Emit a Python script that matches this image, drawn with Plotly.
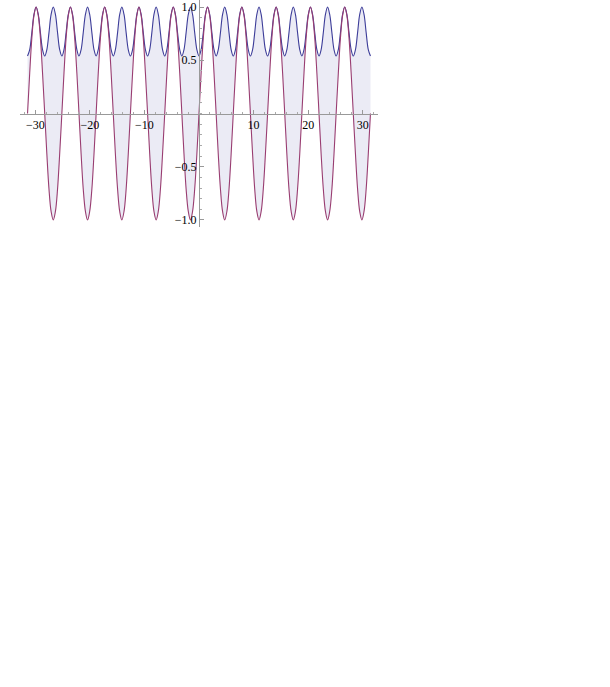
import plotly.graph_objects as go

# sample points, every eighth of pi
x_vals = [
    -31.42, -31.02, -30.63, -30.24, -29.85, -29.45, -29.06, -28.67,
    -28.27, -27.88, -27.49, -27.10, -26.70, -26.31, -25.92, -25.53,
    -25.13, -24.74, -24.35, -23.95, -23.56, -23.17, -22.78, -22.38,
    -21.99, -21.60, -21.21, -20.81, -20.42, -20.03, -19.63, -19.24,
    -18.85, -18.46, -18.06, -17.67, -17.28, -16.89, -16.49, -16.10,
    -15.71, -15.32, -14.92, -14.53, -14.14, -13.74, -13.35, -12.96,
    -12.57, -12.17, -11.78, -11.39, -11.00, -10.60, -10.21, -9.82,
    -9.42, -9.03, -8.64, -8.25, -7.85, -7.46, -7.07, -6.68,
    -6.28, -5.89, -5.50, -5.11, -4.71, -4.32, -3.93, -3.53,
    -3.14, -2.75, -2.36, -1.96, -1.57, -1.18, -0.79, -0.39,
    0.00,
    0.39, 0.79, 1.18, 1.57, 1.96, 2.36, 2.75, 3.14,
    3.53, 3.93, 4.32, 4.71, 5.11, 5.50, 5.89, 6.28,
    6.68, 7.07, 7.46, 7.85, 8.25, 8.64, 9.03, 9.42,
    9.82, 10.21, 10.60, 11.00, 11.39, 11.78, 12.17, 12.57,
    12.96, 13.35, 13.74, 14.14, 14.53, 14.92, 15.32, 15.71,
    16.10, 16.49, 16.89, 17.28, 17.67, 18.06, 18.46, 18.85,
    19.24, 19.63, 20.03, 20.42, 20.81, 21.21, 21.60, 21.99,
    22.38, 22.78, 23.17, 23.56, 23.95, 24.35, 24.74, 25.13,
    25.53, 25.92, 26.31, 26.70, 27.10, 27.49, 27.88, 28.27,
    28.67, 29.06, 29.45, 29.85, 30.24, 30.63, 31.02, 31.42,
]

blue_vals = [
    0.54, 0.60, 0.76, 0.93, 1.0, 0.93, 0.76, 0.60, 0.54, 0.60, 0.76, 0.93, 1.0, 0.93, 0.76, 0.60,
    0.54, 0.60, 0.76, 0.93, 1.0, 0.93, 0.76, 0.60, 0.54, 0.60, 0.76, 0.93, 1.0, 0.93, 0.76, 0.60,
    0.54, 0.60, 0.76, 0.93, 1.0, 0.93, 0.76, 0.60, 0.54, 0.60, 0.76, 0.93, 1.0, 0.93, 0.76, 0.60,
    0.54, 0.60, 0.76, 0.93, 1.0, 0.93, 0.76, 0.60, 0.54, 0.60, 0.76, 0.93, 1.0, 0.93, 0.76, 0.60,
    0.54, 0.60, 0.76, 0.93, 1.0, 0.93, 0.76, 0.60, 0.54, 0.60, 0.76, 0.93, 1.0, 0.93, 0.76, 0.60,
    0.54, 0.60, 0.76, 0.93, 1.0, 0.93, 0.76, 0.60, 0.54, 0.60, 0.76, 0.93, 1.0, 0.93, 0.76, 0.60,
    0.54, 0.60, 0.76, 0.93, 1.0, 0.93, 0.76, 0.60, 0.54, 0.60, 0.76, 0.93, 1.0, 0.93, 0.76, 0.60,
    0.54, 0.60, 0.76, 0.93, 1.0, 0.93, 0.76, 0.60, 0.54, 0.60, 0.76, 0.93, 1.0, 0.93, 0.76, 0.60,
    0.54, 0.60, 0.76, 0.93, 1.0, 0.93, 0.76, 0.60, 0.54, 0.60, 0.76, 0.93, 1.0, 0.93, 0.76, 0.60,
    0.54, 0.60, 0.76, 0.93, 1.0, 0.93, 0.76, 0.60, 0.54, 0.60, 0.76, 0.93, 1.0, 0.93, 0.76, 0.60,
    0.54,
]

purple_vals = [
    0.0, 0.38, 0.71, 0.92, 1.0, 0.92, 0.71, 0.38, 0.0, -0.38, -0.71, -0.92, -1.0, -0.92, -0.71, -0.38,
    0.0, 0.38, 0.71, 0.92, 1.0, 0.92, 0.71, 0.38, 0.0, -0.38, -0.71, -0.92, -1.0, -0.92, -0.71, -0.38,
    0.0, 0.38, 0.71, 0.92, 1.0, 0.92, 0.71, 0.38, 0.0, -0.38, -0.71, -0.92, -1.0, -0.92, -0.71, -0.38,
    0.0, 0.38, 0.71, 0.92, 1.0, 0.92, 0.71, 0.38, 0.0, -0.38, -0.71, -0.92, -1.0, -0.92, -0.71, -0.38,
    0.0, 0.38, 0.71, 0.92, 1.0, 0.92, 0.71, 0.38, 0.0, -0.38, -0.71, -0.92, -1.0, -0.92, -0.71, -0.38,
    0.0, 0.38, 0.71, 0.92, 1.0, 0.92, 0.71, 0.38, 0.0, -0.38, -0.71, -0.92, -1.0, -0.92, -0.71, -0.38,
    0.0, 0.38, 0.71, 0.92, 1.0, 0.92, 0.71, 0.38, 0.0, -0.38, -0.71, -0.92, -1.0, -0.92, -0.71, -0.38,
    0.0, 0.38, 0.71, 0.92, 1.0, 0.92, 0.71, 0.38, 0.0, -0.38, -0.71, -0.92, -1.0, -0.92, -0.71, -0.38,
    0.0, 0.38, 0.71, 0.92, 1.0, 0.92, 0.71, 0.38, 0.0, -0.38, -0.71, -0.92, -1.0, -0.92, -0.71, -0.38,
    0.0, 0.38, 0.71, 0.92, 1.0, 0.92, 0.71, 0.38, 0.0, -0.38, -0.71, -0.92, -1.0, -0.92, -0.71, -0.38,
    0.0,
]

x_ticks = [-30, -20, -10, 10, 20, 30]
y_ticks = [-1.0, -0.5, 0.5, 1.0]

fig = go.Figure()
fig.add_trace(go.Scatter(x=x_vals, y=blue_vals, mode='lines',
                         line=dict(color='#3d3d99', width=1.1, shape='spline', smoothing=1),
                         hoverinfo='skip'))
fig.add_trace(go.Scatter(x=x_vals, y=purple_vals, mode='lines',
                         line=dict(color='#993d71', width=1.1, shape='spline', smoothing=1),
                         fill='tonexty', fillcolor='rgba(61,61,153,0.1)',
                         hoverinfo='skip'))

tick_font = dict(family='Liberation Serif', size=12, color='black')

fig.update_layout(
    width=610, height=687,
    margin=dict(l=20, r=232, t=0, b=460),
    paper_bgcolor='white', plot_bgcolor='white',
    showlegend=False,
    xaxis=dict(range=[-32.8, 32.8], anchor='free', position=0.5,
               showline=True, linecolor='#999999', linewidth=1,
               showgrid=False, zeroline=False,
               tickvals=x_ticks, ticks='inside', ticklen=4, tickcolor='#999999',
               minor=dict(dtick=2, ticks='inside', ticklen=2, tickcolor='#aaaaaa', showgrid=False),
               tickfont=tick_font),
    yaxis=dict(range=[-1.066, 1.066], anchor='free', position=0.5,
               showline=True, linecolor='#999999', linewidth=1,
               showgrid=False, zeroline=False,
               tickvals=y_ticks, tickformat='.1f', ticks='inside', ticklen=4, tickcolor='#999999',
               minor=dict(dtick=0.1, ticks='inside', ticklen=2, tickcolor='#aaaaaa', showgrid=False),
               tickfont=tick_font),
)

# page body has a default 8px margin; drop it so the chart sits at the top-left corner
fig.write_html("out.html", config={'displayModeBar': False},
               post_script="document.body.style.margin='0px';")
